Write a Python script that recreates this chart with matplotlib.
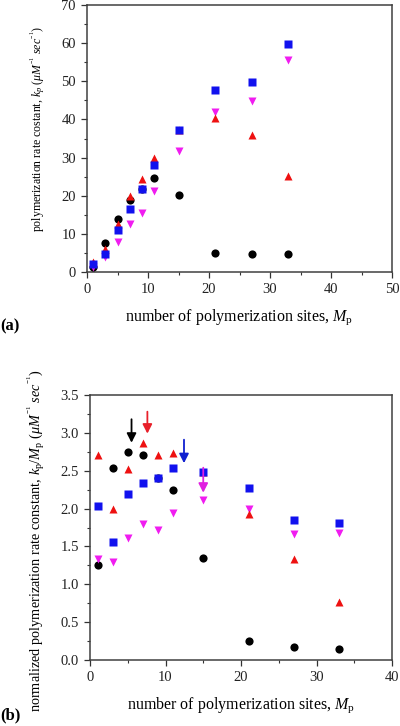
import matplotlib
matplotlib.use("Agg")
import matplotlib.pyplot as plt
from matplotlib.ticker import MultipleLocator

plt.rcParams['font.family'] = ['Liberation Serif', 'DejaVu Serif']
plt.rcParams['mathtext.fontset'] = 'custom'
plt.rcParams['mathtext.rm'] = 'Liberation Serif'
plt.rcParams['mathtext.it'] = 'Liberation Serif:italic'
plt.rcParams['mathtext.bf'] = 'Liberation Serif:bold'

mp = [1, 3, 5, 7, 9, 11, 15, 21, 27, 33]

# (a) polymerization rate constant kp
kp_black = [1.3, 7.7, 13.8, 19.0, 21.7, 24.6, 20.2, 5.1, 4.7, 4.7]
kp_magenta = [1.3, 3.9, 8.0, 12.5, 15.5, 21.3, 31.6, 41.9, 44.9, 55.6]
kp_red = [2.7, 6.0, 12.6, 20.0, 24.4, 30.0, 37.2, 40.5, 36.0, 25.3]
kp_blue = [2.0, 4.7, 11.0, 16.4, 21.7, 28.0, 37.2, 47.7, 49.9, 59.7]

# (b) normalized kp / Mp
nk_black = [1.26, 2.54, 2.75, 2.71, 2.41, 2.24, 1.35, 0.25, 0.17, 0.14]
nk_magenta = [1.34, 1.30, 1.61, 1.80, 1.72, 1.94, 2.11, 1.99, 1.66, 1.68]
nk_red = [2.71, 2.00, 2.52, 2.86, 2.71, 2.73, 2.48, 1.93, 1.33, 0.77]
nk_blue = [2.03, 1.56, 2.19, 2.34, 2.41, 2.54, 2.48, 2.27, 1.85, 1.81]

# arrows in (b): x, y start, y tip
arrow_x = [5.5, 7.6, 12.45, 15.0]
arrow_y0 = [3.18, 3.28, 2.91, 2.54]
arrow_y1 = [2.87, 2.99, 2.60, 2.21]
arrow_colors = ['black', '#e8202a', '#1020d0', '#e020e0']

C_BLACK = 'black'
C_MAG = '#f01cf0'
C_RED = '#ee1111'
C_BLUE = '#1111ee'

fig = plt.figure(figsize=(4.0, 7.26), dpi=100)
ax1 = fig.add_axes([0.2175, 0.6253, 0.7625, 0.3678])
ax2 = fig.add_axes([0.225, 0.0909, 0.755, 0.365])

def draw(ax, b, m, r, bl):
    ax.plot(mp, b, 'o', color=C_BLACK, ms=5.9, mec='none', zorder=3)
    ax.plot(mp, m, 'v', color=C_MAG, ms=6.3, mec='none', zorder=4)
    ax.plot(mp, r, '^', color=C_RED, ms=6.1, mec='none', zorder=5)
    ax.plot(mp, bl, 's', color=C_BLUE, ms=5.5, mec='none', zorder=6)

draw(ax1, kp_black, kp_magenta, kp_red, kp_blue)
draw(ax2, nk_black, nk_magenta, nk_red, nk_blue)

for x, y0, y1, c in zip(arrow_x, arrow_y0, arrow_y1, arrow_colors):
    ax2.annotate('', xy=(x, y1), xytext=(x, y0),
                 arrowprops=dict(arrowstyle='-|>,head_width=0.28,head_length=0.55',
                                 color=c, lw=1.3, shrinkA=0, shrinkB=0), zorder=7)

ax1.set_xlim(0, 50)
ax1.set_ylim(0, 70)
ax1.xaxis.set_major_locator(MultipleLocator(10))
ax1.xaxis.set_minor_locator(MultipleLocator(5))
ax1.yaxis.set_major_locator(MultipleLocator(10))
ax1.yaxis.set_minor_locator(MultipleLocator(5))

ax2.set_xlim(0, 40)
ax2.set_ylim(0, 3.5)
ax2.xaxis.set_major_locator(MultipleLocator(10))
ax2.xaxis.set_minor_locator(MultipleLocator(5))
ax2.yaxis.set_major_locator(MultipleLocator(0.5))
ax2.yaxis.set_minor_locator(MultipleLocator(0.25))
ax2.yaxis.set_major_formatter(matplotlib.ticker.FormatStrFormatter('%.1f'))

for ax in (ax1, ax2):
    for s in ax.spines.values():
        s.set_linewidth(1.1)
        s.set_color('#404040')
    ax.tick_params(which='major', direction='out', length=4, width=0.9,
                   labelsize=10.5, colors='#333333', labelcolor='#222222', pad=4)
    ax.tick_params(which='minor', direction='out', length=2.5, width=0.8, colors='#333333')

ax1.set_xlabel(r'number of polymerization sites, $M_{\mathrm{p}}$', fontsize=11.5, labelpad=8)
ax1.set_ylabel(r'polymerization rate costant, $k_p$ ($\mu M^{^{-1}}$ $sec^{^{-1}}$)', fontsize=8.6)
ax2.set_xlabel(r'number of polymerization sites, $M_{\mathrm{p}}$', fontsize=11.5, labelpad=8)
ax2.set_ylabel(r'normalized polymerization rate constant, $k_{\mathrm{p}}/M_{\mathrm{p}}$ ($\mu M^{^{-1}}$ $sec^{^{-1}}$)', fontsize=10.3)
ax1.yaxis.set_label_coords(-0.131, 0.537)
ax2.yaxis.set_label_coords(-0.142, 0.45)

fig.text(0.0, 1 - 326 / 726, '(a)', fontsize=12, fontweight='bold', va='center', ha='left')
fig.text(0.0, 1 - 715 / 726, '(b)', fontsize=12, fontweight='bold', va='center', ha='left')

fig.savefig('out.png', dpi=100)
